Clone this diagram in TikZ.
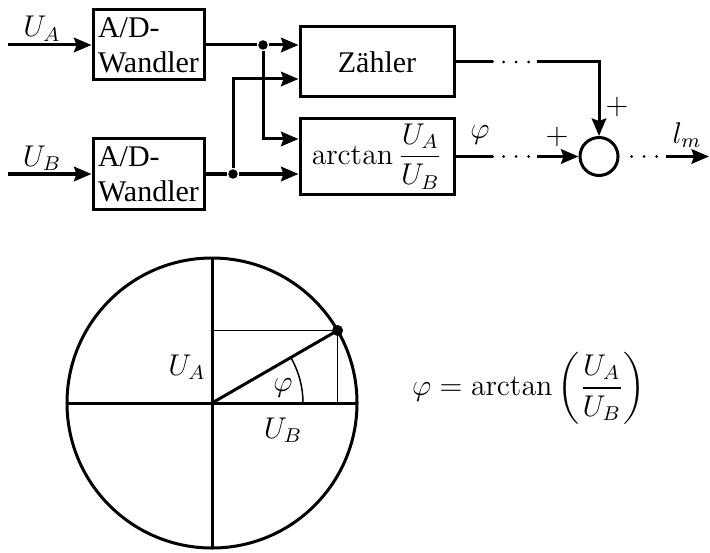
\documentclass[tikz,border=0pt]{standalone}
\usepackage{amsmath}
\usepackage[no-math]{fontspec}
\setmainfont{Liberation Serif}
\usetikzlibrary{calc}
\usetikzlibrary{positioning}
\usetikzlibrary{arrows.meta}

\begin{document}
\begin{tikzpicture}[
      x=0.4pt, y=-0.4pt, >={Stealth[length=7pt, width=5.8pt, inset=1pt]},
      line width=1.2pt,
      block/.style={rectangle, draw, inner sep=2pt, minimum width=61.6pt, minimum height=28pt},
      adbox/.style={block, minimum width=44.4pt, align=left},
      sumnode/.style={circle, draw, minimum size=15.2pt, inner sep=0pt},
      junction/.style={circle, fill, minimum size=3.8pt, inner sep=0pt},
      gapline/.style={line cap=round, dash pattern=on 14.8pt off 4.4pt on 0pt off 5pt on 0pt off 5pt on 0pt off 20pt},
      dotline/.style={line cap=round, dash pattern=on 0pt off 5pt, dash phase=0.2pt},
      fine/.style={line width=0.6pt},
      every node/.style={font=\fontsize{12}{14}\selectfont}]

      \useasboundingbox (0,0) rectangle (710,552);

      % converters
      \foreach \n/\y in {A/45, B/174}{
        \node[adbox] (ad\n) at (148.5,\y) {A/D-\\Wandler};
        \coordinate (in\n) at (8,\y);
        \node[anchor=base] (lab\n) at (42,\y-8) {$U_\n$};
        \draw[->] (in\n) -- (ad\n);
      }
      \node[block] (zaehler) at (377,62) {Zähler};
      \node[block] (arctan) at (377,156.5) {$\arctan\dfrac{U_A}{U_B}$};
      \node[sumnode] (sum) at (599,156.5) {};
      \node[junction] (jA) at (263,45) {};
      \node[junction] (jB) at (233,174) {};

      % edges
      \draw (adA) -- (jA);
      \draw[->] (jA) -- (jA -| zaehler.west);
      \draw[->] (jA) |- ($(arctan.west)+(0,-17.5)$);
      \draw (adB) -- (jB);
      \draw[->] (jB) -- (jB -| arctan.west);
      \draw[->] (jB) |- ($(zaehler.west)+(0,17)$);

      \coordinate (z2) at (537,62);
      \coordinate (a2) at (537,156.5);
      \coordinate (o1) at (666,156.5);
      \coordinate (out) at (709,156.5);
      \draw[gapline] (zaehler) -- (z2);
      \draw[->] (z2) -| (sum);
      \draw[gapline] (arctan) -- (a2);
      \draw[->] (a2) -- (sum);
      \draw[dotline] (sum) -- (o1);
      \draw[->] (o1) -- (out);

      % signal labels
      \node (phiout) at (480,135) {$\varphi$};
      \node (plusA) at (617,107) {$+$};
      \node (plusB) at (557,137) {$+$};
      \node (lm) at (687,135) {$l_m$};

      % unit circle
      \coordinate (O) at (212,403);
      \draw (O) circle[radius=58pt];
      \draw ($(O)+(-58pt,0)$) -- ($(O)+(58pt,0)$);
      \draw ($(O)+(0,58pt)$) -- ($(O)+(0,-58pt)$);
      \coordinate (P) at ($(O)+(30:58pt)$);
      \draw (O) -- (P);
      \draw[fine] (O |- P) -- (P) -- (P |- O);
      \draw[fine] ($(O)+(36.4pt,0)$) arc[start angle=0, end angle=30, radius=36.4pt];
      \node[junction, minimum size=4.4pt] (tip) at (P) {};
      \node (UAc) at (187,367) {$U_A$};
      \node (UBc) at (283,430) {$U_B$};
      \node (phic) at (283,388) {$\varphi$};
      \node (formula) at (529,388) {$\varphi = \arctan\left(\dfrac{U_A}{U_B}\right)$};
    \end{tikzpicture}
\end{document}
